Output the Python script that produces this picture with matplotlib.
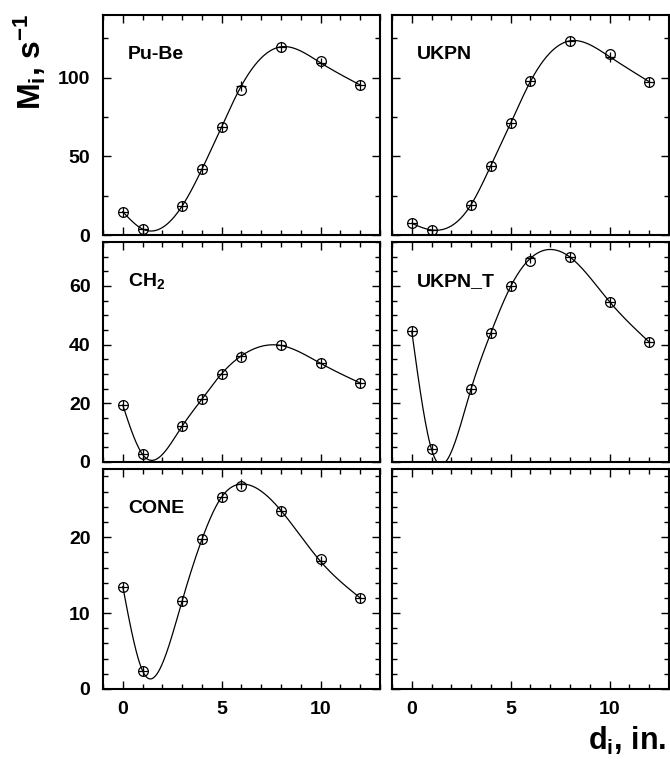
import numpy as np
import matplotlib.pyplot as plt
from matplotlib.ticker import MultipleLocator

plt.rcParams['font.family'] = ['Liberation Sans', 'DejaVu Sans']
plt.rcParams['font.weight'] = 'bold'
plt.rcParams['mathtext.fontset'] = 'custom'
plt.rcParams['mathtext.rm'] = 'Liberation Sans:bold'
plt.rcParams['mathtext.bf'] = 'Liberation Sans:bold'
plt.rcParams['mathtext.it'] = 'Liberation Sans:bold'

# distance d_i (in.)
d = [0, 1, 3, 4, 5, 6, 8, 10, 12]

# measured (circles) and fitted (crosses) count rates M_i, s^-1
pube_meas = [14.8, 3.8, 18.4, 41.8, 68.9, 92.2, 119.7, 110.8, 95.4]
pube_fit = [14.8, 3.8, 18.4, 41.8, 68.9, 95.0, 119.7, 109.5, 95.4]
ukpn_meas = [7.4, 3.2, 19.3, 44.1, 71.0, 97.7, 123.5, 115.1, 97.5]
ukpn_fit = [7.4, 3.2, 19.3, 44.1, 71.0, 97.7, 123.5, 113.4, 97.5]
ch2_meas = [19.4, 2.6, 12.2, 21.4, 30.1, 35.8, 39.7, 33.6, 26.9]
ch2_fit = [19.4, 2.6, 12.2, 21.4, 30.1, 36.2, 39.7, 33.6, 26.9]
ukpnt_meas = [44.6, 4.3, 24.9, 44.0, 59.8, 68.6, 69.8, 54.6, 40.9]
ukpnt_fit = [44.6, 4.3, 24.9, 44.0, 59.8, 69.4, 69.8, 54.6, 40.9]
cone_meas = [13.5, 2.4, 11.6, 19.7, 25.3, 26.7, 23.5, 17.1, 12.0]
cone_fit = [13.5, 2.4, 11.6, 19.7, 25.3, 27.0, 23.5, 16.8, 12.0]

panels = [
    ('Pu-Be', pube_meas, pube_fit),
    ('UKPN', ukpn_meas, ukpn_fit),
    ('CH$_2$', ch2_meas, ch2_fit),
    ('UKPN_T', ukpnt_meas, ukpnt_fit),
    ('CONE', cone_meas, cone_fit),
    (None, None, None),
]
row_ylim = [140, 75, 29]
row_major = [50, 20, 10]
row_minor = [25, 5, 2]


def spline(x, y, n=300):
    # natural cubic spline, only used to draw the smooth fit line
    x = np.asarray(x, float)
    y = np.asarray(y, float)
    k = len(x)
    h = np.diff(x)
    A = np.zeros((k, k))
    b = np.zeros(k)
    A[0, 0] = A[-1, -1] = 1
    for i in range(1, k - 1):
        A[i, i - 1] = h[i - 1]
        A[i, i] = 2 * (h[i - 1] + h[i])
        A[i, i + 1] = h[i]
        b[i] = 3 * ((y[i + 1] - y[i]) / h[i] - (y[i] - y[i - 1]) / h[i - 1])
    c = np.linalg.solve(A, b)
    xs = np.linspace(x[0], x[-1], n)
    ys = np.empty(n)
    for j, xv in enumerate(xs):
        i = min(np.searchsorted(x, xv, side='right') - 1, k - 2)
        t = xv - x[i]
        bb = (y[i + 1] - y[i]) / h[i] - h[i] * (2 * c[i] + c[i + 1]) / 3
        dd = (c[i + 1] - c[i]) / (3 * h[i])
        ys[j] = y[i] + bb * t + c[i] * t ** 2 + dd * t ** 3
    return xs, ys


fig = plt.figure(figsize=(6.7, 7.63), dpi=100)
lefts = [0.1537, 0.585]
bottoms = [0.692, 0.3945, 0.097]
w, h = 0.4134, 0.2885

for n, (name, meas, fit) in enumerate(panels):
    r, c = divmod(n, 2)
    ax = fig.add_axes([lefts[c], bottoms[r], w, h])
    ax.set_xlim(-1, 13)
    ax.set_ylim(0, row_ylim[r])
    ax.xaxis.set_major_locator(MultipleLocator(5))
    ax.xaxis.set_minor_locator(MultipleLocator(1))
    ax.yaxis.set_major_locator(MultipleLocator(row_major[r]))
    ax.yaxis.set_minor_locator(MultipleLocator(row_minor[r]))
    ax.tick_params(which='both', direction='in', top=True, right=True,
                   width=1.0, labelsize=14, pad=9)
    ax.tick_params(which='major', length=5.8)
    ax.tick_params(which='minor', length=3.6)
    for s in ax.spines.values():
        s.set_linewidth(1.5)
    if c == 1:
        ax.tick_params(labelleft=False)
    if r < 2:
        ax.tick_params(labelbottom=False)
    for lab in ax.get_xticklabels() + ax.get_yticklabels():
        lab.set_fontweight('bold')
    if name is None:
        continue
    xs, ys = spline(d, fit)
    ax.plot(xs, ys, color='black', lw=0.9)
    ax.plot(d, meas, 'o', mfc='none', mec='black', ms=7, mew=0.9)
    ax.plot(d, fit, '+', color='black', ms=7.5, mew=0.9)
    ax.text(0.09, 0.82, name, transform=ax.transAxes, fontsize=14,
            fontweight='bold', ha='left', va='center')

fig.text(0.045, 0.982, 'M$_i$, s$^{-1}$', rotation=90,
         fontsize=23, fontweight='bold', ha='center', va='top')
fig.text(0.995, 0.008, 'd$_i$, in.', fontsize=22,
         fontweight='bold', ha='right', va='bottom')

fig.savefig('out.png', dpi=100)
